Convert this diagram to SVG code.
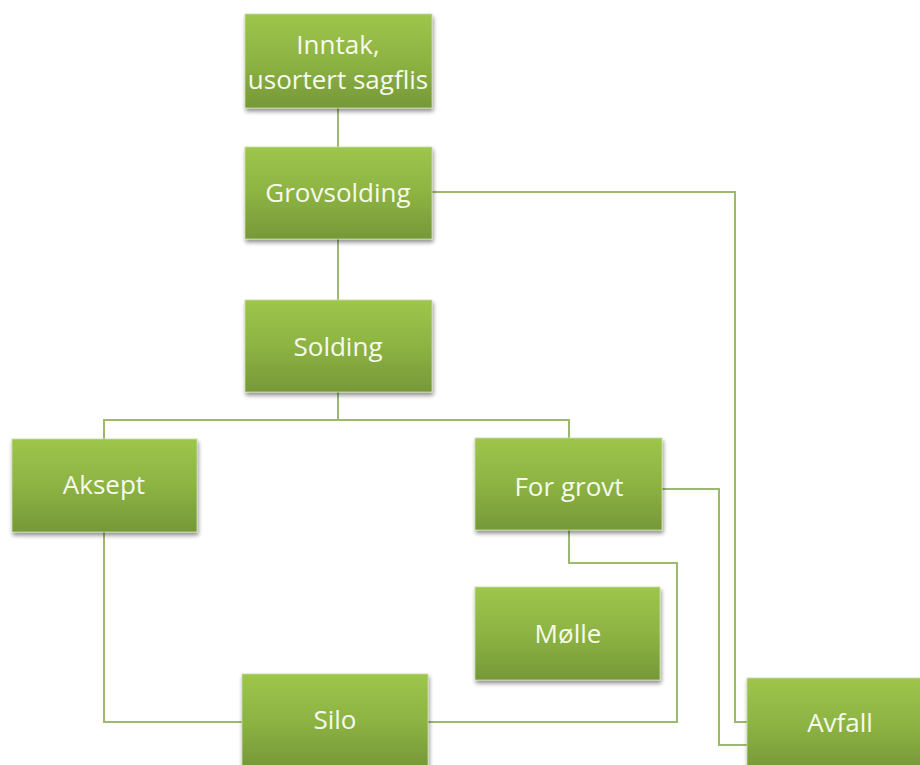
<svg xmlns="http://www.w3.org/2000/svg" width="920" height="765" viewBox="0 0 920 765">
<defs>
<linearGradient id="g" x1="0" y1="0" x2="0" y2="1">
<stop offset="0" stop-color="#9dc64b"/>
<stop offset="0.5" stop-color="#8db343"/>
<stop offset="1" stop-color="#769838"/>
</linearGradient>
<filter id="sh" x="-10%" y="-10%" width="125%" height="130%">
<feGaussianBlur in="SourceAlpha" stdDeviation="2"/>
<feOffset dx="1" dy="3" result="b"/>
<feComponentTransfer><feFuncA type="linear" slope="0.45"/></feComponentTransfer>
<feMerge><feMergeNode/><feMergeNode in="SourceGraphic"/></feMerge>
</filter>
</defs>
<style>
.n{fill:url(#g);stroke:#c9dba6;stroke-width:0.8;filter:url(#sh)}
.t{font-family:"Open Sans","Liberation Sans",sans-serif;font-size:26px;fill:#f6faec;text-anchor:middle}
.c{fill:none;stroke:#9cb96c;stroke-width:2}
</style>
<rect width="920" height="765" fill="#ffffff"/>
<g id="connectors">
<path class="c" d="M338 108V147"/>
<path class="c" d="M338 239V300"/>
<path class="c" d="M432 192H735V722H747"/>
<path class="c" d="M338 392V420H104V439"/>
<path class="c" d="M338 420H569V438"/>
<path class="c" d="M104 532V722H242"/>
<path class="c" d="M569 530V563H677V722H428"/>
<path class="c" d="M662 489H719V745H747"/>
</g>
<g id="inntak"><rect class="n" x="245" y="14" width="187" height="94"/><text class="t" x="338" y="54">Inntak,</text><text class="t" x="338" y="89">usortert sagflis</text></g>
<g id="grovsolding"><rect class="n" x="245" y="147" width="187" height="92"/><text class="t" x="338" y="202">Grovsolding</text></g>
<g id="solding"><rect class="n" x="245" y="300" width="187" height="92"/><text class="t" x="338" y="356">Solding</text></g>
<g id="aksept"><rect class="n" x="12" y="439" width="185" height="93"/><text class="t" x="104" y="494">Aksept</text></g>
<g id="forgrovt"><rect class="n" x="475" y="438" width="187" height="92"/><text class="t" x="569" y="496">For grovt</text></g>
<g id="molle"><rect class="n" x="475" y="587" width="185" height="93"/><text class="t" x="568" y="643">Mølle</text></g>
<g id="silo"><rect class="n" x="242" y="674" width="186" height="93"/><text class="t" x="335" y="729">Silo</text></g>
<g id="avfall"><rect class="n" x="747" y="678" width="187" height="93"/><text class="t" x="840" y="732">Avfall</text></g>
</svg>
